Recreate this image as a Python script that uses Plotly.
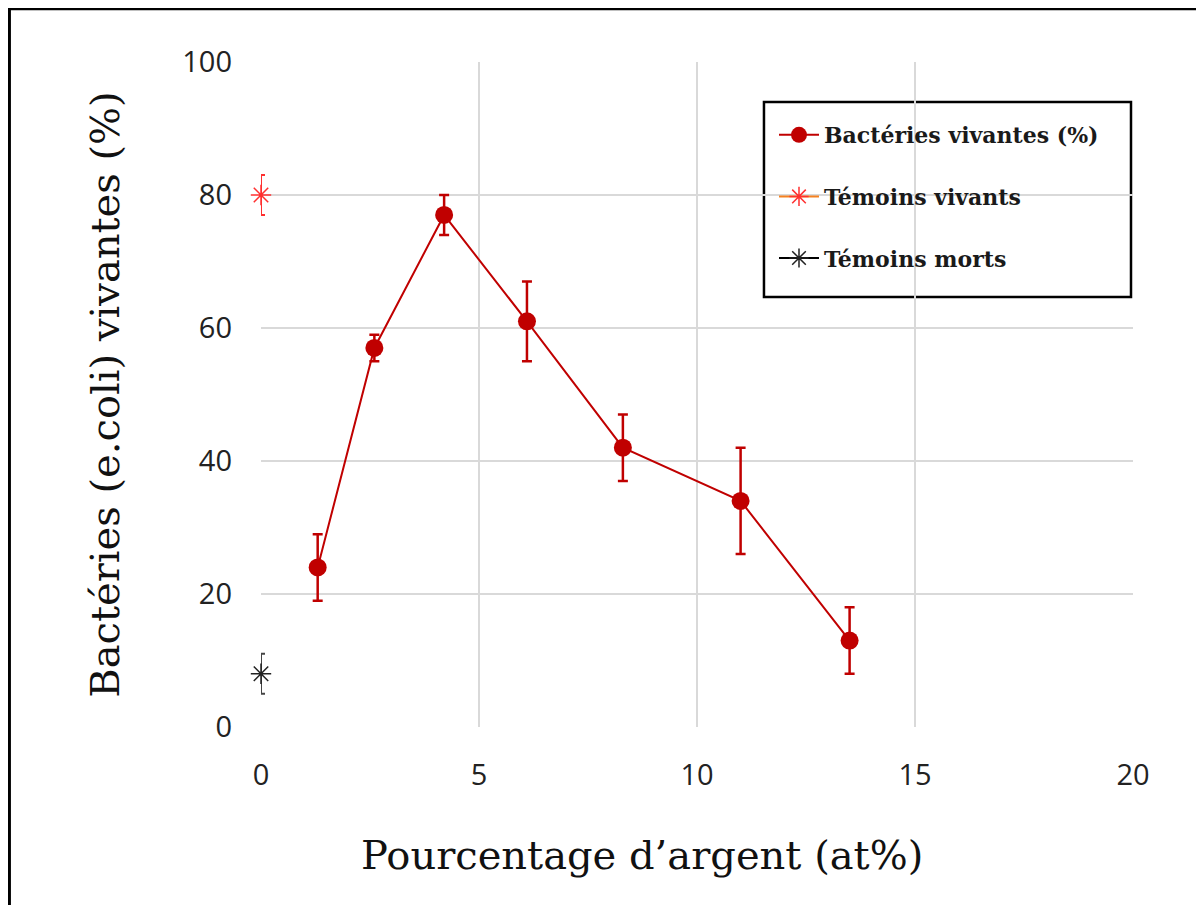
import plotly.graph_objects as go

# Data
argent = [1.3, 2.6, 4.2, 6.1, 8.3, 11.0, 13.5]
vivantes = [24, 57, 77, 61, 42, 34, 13]
vivantes_err = [5, 2, 3, 6, 5, 8, 5]

temoin_vivant_x = [0]
temoin_vivant_y = [80]
temoin_vivant_err = [3]

temoin_mort_x = [0]
temoin_mort_y = [8]
temoin_mort_err = [3]

red = "#C00000"
serif = "DejaVu Serif"

fig = go.Figure()

fig.add_trace(go.Scatter(
    x=argent, y=vivantes, mode="lines+markers",
    name="Bactéries vivantes (%)", legendgroup="a",
    line=dict(color=red, width=2),
    marker=dict(color=red, size=18, symbol="circle"),
    error_y=dict(type="data", array=vivantes_err, color=red, thickness=2.5, width=5),
    cliponaxis=False,
))

fig.add_trace(go.Scatter(
    x=temoin_vivant_x, y=temoin_vivant_y, mode="lines+markers",
    name="Témoins vivants", legendgroup="b",
    line=dict(color="#F58220", width=2),
    marker=dict(color="#FF3030", size=17, symbol="asterisk-open",
                line=dict(color="#FF3030", width=1.5)),
    error_y=dict(type="data", array=temoin_vivant_err, color="#FF3030", thickness=2, width=4),
    cliponaxis=False,
))

fig.add_trace(go.Scatter(
    x=temoin_mort_x, y=temoin_mort_y, mode="lines+markers",
    name="Témoins morts", legendgroup="c",
    line=dict(color="#000000", width=2),
    marker=dict(color="#222222", size=17, symbol="asterisk-open",
                line=dict(color="#222222", width=1.5)),
    error_y=dict(type="data", array=temoin_mort_err, color="#444444", thickness=2, width=4),
    cliponaxis=False,
))

fig.update_layout(
    width=1204, height=905,
    margin=dict(l=253, r=79, t=54, b=186),
    paper_bgcolor="white", plot_bgcolor="white",
    showlegend=True,
    legend=dict(
        x=0.5883, y=0.9218, xanchor="left", yanchor="top",
        borderwidth=0, bgcolor="rgba(0,0,0,0)",
        font=dict(family=serif, size=22, color="#1a1a1a", weight="bold"),
        tracegroupgap=30, itemwidth=40,
    ),
    xaxis=dict(
        range=[0, 20], tickvals=[0, 5, 10, 15, 20],
        showgrid=True, gridcolor="#d9d9d9", gridwidth=1.5,
        zeroline=False, showline=False, ticks="",
        ticklabelstandoff=28,
        tickfont=dict(family="Open Sans", size=29, color="#222222"),
    ),
    yaxis=dict(
        range=[0, 100], tickvals=[0, 20, 40, 60, 80, 100],
        showgrid=True, gridcolor="#d9d9d9", gridwidth=1.5,
        zeroline=False, showline=False, ticks="",
        ticklabelstandoff=28,
        tickfont=dict(family="Open Sans", size=29, color="#222222"),
        title=dict(text="Bactéries (e.coli) vivantes (%)", standoff=50,
                   font=dict(family=serif, size=40, color="#111111")),
    ),
    annotations=[dict(
        text="Pourcentage d’argent (at%)", xref="paper", yref="paper",
        x=0.437, y=-0.1925, xanchor="center", yanchor="middle", showarrow=False,
        font=dict(family=serif, size=40, color="#111111"),
    )],
    shapes=[
        # legend frame
        dict(type="rect", xref="paper", yref="paper",
             x0=0.5768, x1=0.9977, y0=0.6466, y1=0.9398,
             line=dict(color="black", width=2.5), fillcolor="white", layer="between"),
        # outer frame of the picture
        dict(type="rect", xref="paper", yref="paper",
             x0=-0.2885, x1=1.10, y0=-0.30, y1=1.080,
             line=dict(color="black", width=3), layer="below"),
    ],
)

fig.write_html("out.html")
